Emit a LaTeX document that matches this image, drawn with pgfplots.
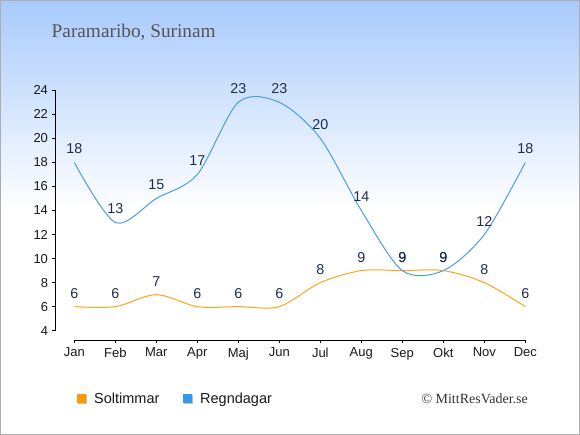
\documentclass[border=0pt]{standalone}
\usepackage{pgfplots}
\pgfplotsset{compat=1.18}
\usepackage{fontspec}
\setmainfont{Liberation Sans}
\newfontfamily\seriffont{Liberation Serif}
\definecolor{sunc}{HTML}{FFA31A}
\definecolor{sunsq}{HTML}{FF9900}
\definecolor{rainc}{HTML}{4A9EE8}
\definecolor{rainsq}{HTML}{3399EE}
\definecolor{lblc}{HTML}{1E2D4A}
\definecolor{bgtop}{HTML}{A8CAFC}
\begin{document}
\begin{tikzpicture}[x=1bp,y=1bp]
% background
\fill[white] (0,0) rectangle (580,435);
\shade[top color=bgtop, bottom color=white] (0,225) rectangle (580,435);
\draw[color=black!32, line width=1.2bp] (0.6,0.6) rectangle (579.4,434.4);
% title
\node[anchor=base west, text=black!67, font=\seriffont\fontsize{19.3bp}{21bp}\selectfont, inner sep=0] at (51.5,397) {Paramaribo, Surinam};
\begin{axis}[
  at={(55bp,95bp)}, anchor=south west,
  scale only axis, width=470.3bp, height=249.7bp,
  xmin=-0.471, xmax=11, ymin=3.226, ymax=24,
  clip=false,
  axis x line*=bottom, axis y line*=left,
  axis line style={draw=none},
  xtick={0,...,11},
  xticklabels={Jan,Feb,Mar,Apr,Maj,Jun,Jul,Aug,Sep,Okt,Nov,Dec},
  ytick={4,6,...,24},
  tick align=outside,
  major tick length=3.5bp,
  tick style={black, line width=0.9bp},
  /pgf/number format/assume math mode=true,
  ticklabel style={font=\fontsize{13bp}{15bp}\selectfont, text=black!90},
  xticklabel style={yshift=-1bp},
  nodes near coords,
  every node near coord/.style={anchor=center, yshift=13.5bp, font=\fontsize{14.3bp}{16bp}\selectfont, text=lblc},
]
\draw[black, line width=0.9bp] (axis cs:0,3.226) -- (axis cs:11,3.226);
\draw[black, line width=0.9bp] (axis cs:-0.471,4) -- (axis cs:-0.471,24);
\addplot[sunc, line width=1bp, smooth, mark=none] coordinates {
(0,6) (1,6) (2,7) (3,6) (4,6) (5,6) (6,8) (7,9) (8,9) (9,9) (10,8) (11,6)};
\addplot[rainc, line width=1bp, smooth, mark=none] coordinates {
(0,18) (1,13) (2,15) (3,17) (4,23) (5,23) (6,20) (7,14) (8,9) (9,9) (10,12) (11,18)};
\end{axis}
% legend
\fill[black!25] (78,31) rectangle (87,40);
\fill[sunsq] (77,32) rectangle (86,41);
\node[anchor=base west, inner sep=0, font=\fontsize{14.5bp}{16bp}\selectfont, text=black!90] at (94,31) {Soltimmar};
\fill[black!25] (184,31) rectangle (193,40);
\fill[rainsq] (183,32) rectangle (192,41);
\node[anchor=base west, inner sep=0, font=\fontsize{14.5bp}{16bp}\selectfont, text=black!90] at (200,31) {Regndagar};
\node[anchor=base east, inner sep=0, font=\seriffont\fontsize{14bp}{16bp}\selectfont, text=black!80] at (528,31) {© MittResVader.se};
\end{tikzpicture}
\end{document}
